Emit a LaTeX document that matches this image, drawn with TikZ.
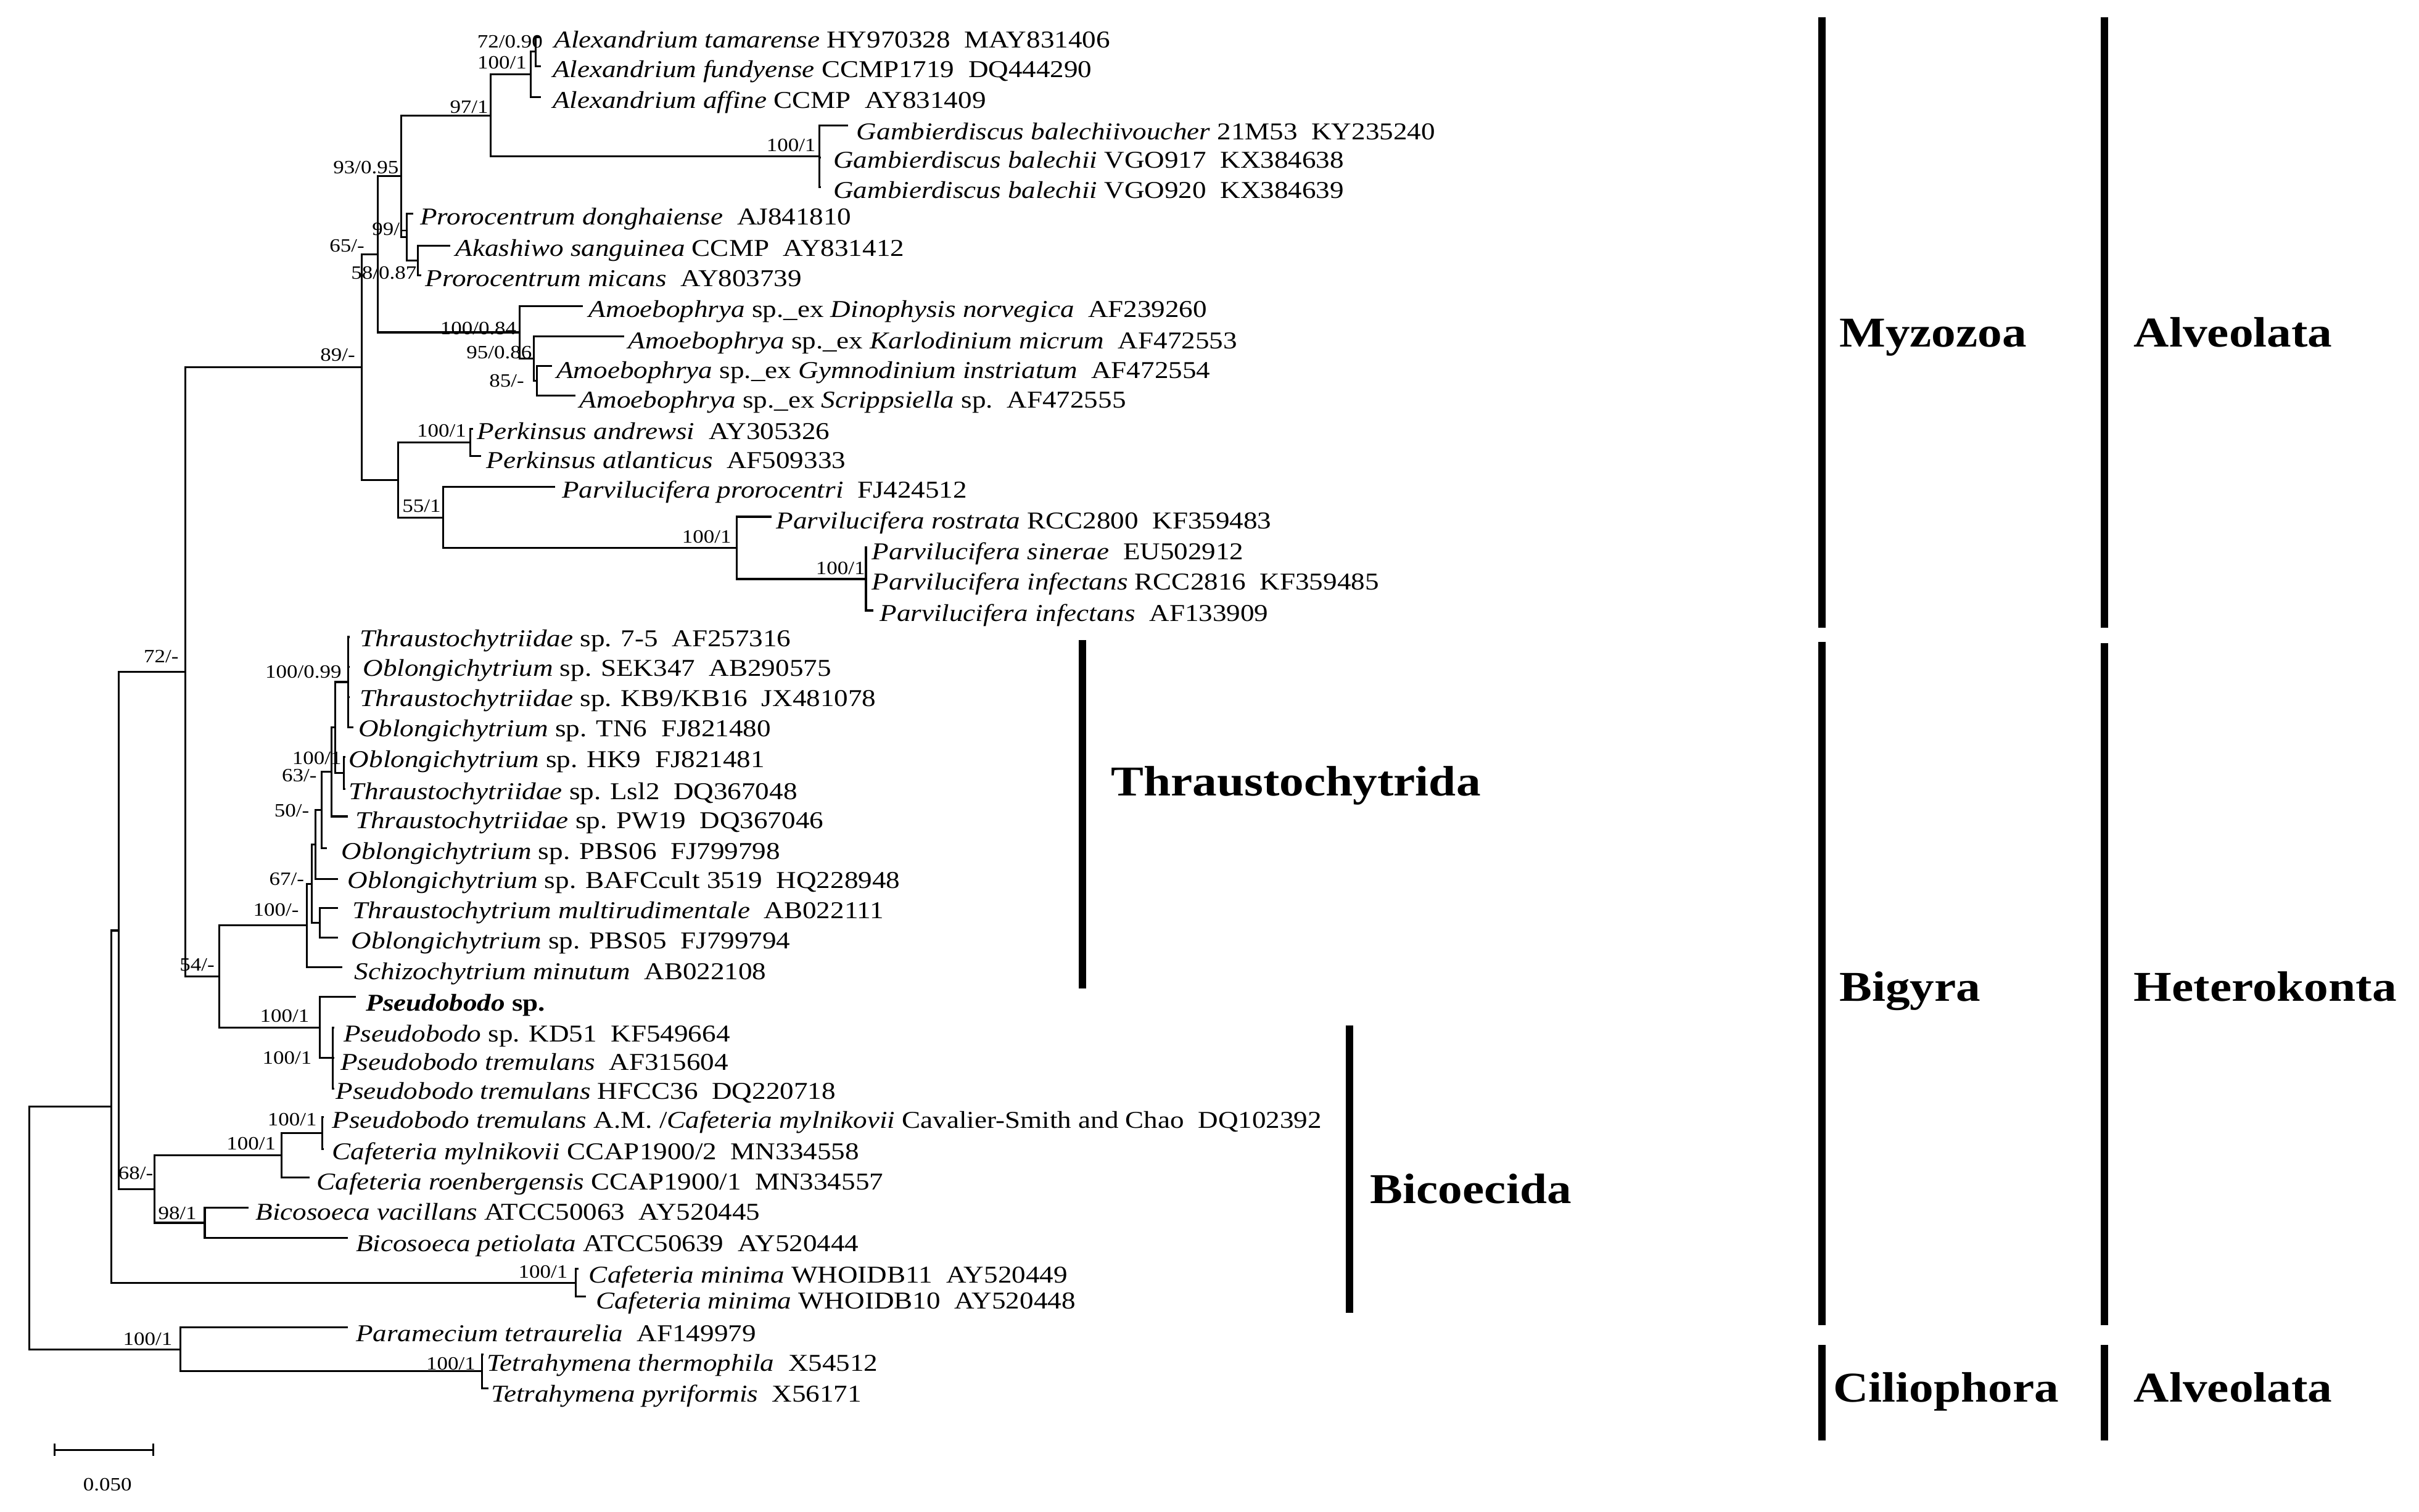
\documentclass[tikz,border=0pt]{standalone}
\usepackage{fontspec}
\setmainfont{Liberation Serif}[FakeStretch=1.15]
\newcommand\leafsize{\fontsize{11.15}{12}\selectfont}
\newcommand\bootsize{\fontsize{8.65}{9}\selectfont}
\newcommand\groupsize{\fontsize{19.6}{21}\selectfont\bfseries}
\begin{document}
\begin{tikzpicture}[x=0.025cm, y=-0.025cm,
  br/.style={line width=0.9pt},
  leaf/.style={anchor=base west, inner sep=0pt, font=\leafsize, yshift=-0.05cm},
  bs/.style={anchor=east, inner sep=0pt, font=\bootsize},
  grp/.style={anchor=base west, inner sep=0pt, font=\groupsize},
  bar/.style={line width=3.4pt}]
\fill[white] (0,0) rectangle (1568,980);
\useasboundingbox (0,0) rectangle (1568,980);

% ---------- internal nodes ----------
\coordinate (nA1) at (347.3,33.5);
\coordinate (nA) at (344,48.2);
\coordinate (nG) at (531,101.4);
\coordinate (n97) at (318,74.8);
\coordinate (nP2) at (271,169);
\coordinate (nP1) at (263.5,153.8);
\coordinate (n93) at (260,114.3);
\coordinate (nAm3) at (348,246.9);
\coordinate (nAm2) at (346,232.5);
\coordinate (nAm1) at (336.7,215.5);
\coordinate (n65) at (245,164.9);
\coordinate (nPk) at (305,286.9);
\coordinate (nPv3) at (561.3,375.4);
\coordinate (nPv2) at (477.6,355.2);
\coordinate (nPv1) at (287.3,335.5);
\coordinate (n55) at (258,311.2);
\coordinate (n89) at (234.5,238);
\coordinate (nT1) at (225.6,442.2);
\coordinate (nT2) at (223,501);
\coordinate (nTa) at (217.3,471.6);
\coordinate (nTb) at (215,500.5);
\coordinate (nTc) at (208.5,525.2);
\coordinate (nTd) at (204.5,547.6);
\coordinate (nTe) at (207.3,598.3);
\coordinate (nTf) at (202,573);
\coordinate (nTg) at (199,600);
\coordinate (n54) at (142,633.1);
\coordinate (nPs2) at (215.6,686);
\coordinate (nPs) at (207.3,666.2);
\coordinate (n72) at (120,435.6);
\coordinate (nC2) at (209,734.7);
\coordinate (nC1) at (182.4,749.1);
\coordinate (nB) at (132.7,792.8);
\coordinate (n68) at (100,771);
\coordinate (nN1) at (77,603.3);
\coordinate (nCm) at (373.2,831.7);
\coordinate (nN2) at (72.3,717.5);
\coordinate (nTet) at (312.5,889);
\coordinate (nCil) at (116.8,874.9);
\coordinate (root) at (18.9,796.2);

% ---------- tips ----------
\coordinate (t1) at (350,24);
\coordinate (t2) at (350.6,43);
\coordinate (t3) at (350.6,63);
\coordinate (t4) at (549.7,81.4);
\coordinate (t5) at (532,102);
\coordinate (t6) at (532,121.4);
\coordinate (t7) at (268,138.6);
\coordinate (t8) at (292,159.3);
\coordinate (t9) at (273,178.6);
\coordinate (t10) at (378,198.6);
\coordinate (t11) at (404.7,218);
\coordinate (t12) at (358,237.4);
\coordinate (t13) at (373,256.4);
\coordinate (t14) at (306.5,278);
\coordinate (t15) at (311.8,295.7);
\coordinate (t16) at (360,315.7);
\coordinate (t17) at (500,335);
\coordinate (t18) at (562.3,355);
\coordinate (t19) at (562.3,374.5);
\coordinate (t20) at (566,395.8);
\coordinate (t21) at (226.6,413);
\coordinate (t22) at (226.6,432.5);
\coordinate (t23) at (226.6,452);
\coordinate (t24) at (229,471.4);
\coordinate (t25) at (224,490.7);
\coordinate (t26) at (224,511.4);
\coordinate (t27) at (225.6,529.3);
\coordinate (t28) at (212,550);
\coordinate (t29) at (219,570);
\coordinate (t30) at (219,588.6);
\coordinate (t31) at (219,608);
\coordinate (t32) at (222,627);
\coordinate (t33) at (230.5,646.4);
\coordinate (t34) at (216.6,666.4);
\coordinate (t35) at (216.6,686);
\coordinate (t36) at (216.6,705.7);
\coordinate (t37) at (210,724.3);
\coordinate (t38) at (210,745);
\coordinate (t39) at (200.7,763.5);
\coordinate (t40) at (161,783);
\coordinate (t41) at (225.6,802.5);
\coordinate (t42) at (375,822.7);
\coordinate (t43) at (379.8,840.7);
\coordinate (t44) at (225.6,860.7);
\coordinate (t45) at (313.5,878);
\coordinate (t46) at (316.8,900);

% ---------- branches ----------
\foreach \p/\c in {nA1/t1,nA1/t2,nA/nA1,nA/t3,nG/t4,nG/t5,nG/t6,n97/nA,n97/nG,
  nP2/t8,nP2/t9,nP1/t7,nP1/nP2,n93/n97,n93/nP1,nAm3/t12,nAm3/t13,nAm2/t11,nAm2/nAm3,
  nAm1/t10,nAm1/nAm2,n65/n93,n65/nAm1,nPk/t14,nPk/t15,nPv3/t18,nPv3/t19,nPv3/t20,
  nPv2/t17,nPv2/nPv3,nPv1/t16,nPv1/nPv2,n55/nPk,n55/nPv1,n89/n65,n89/n55,
  nT1/t21,nT1/t22,nT1/t23,nT1/t24,nT2/t25,nT2/t26,nTa/nT1,nTa/nT2,nTb/nTa,nTb/t27,
  nTc/nTb,nTc/t28,nTd/nTc,nTd/t29,nTe/t30,nTe/t31,nTf/nTd,nTf/nTe,nTg/nTf,nTg/t32,
  nPs2/t34,nPs2/t35,nPs2/t36,nPs/t33,nPs/nPs2,n54/nTg,n54/nPs,n72/n89,n72/n54,
  nC2/t37,nC2/t38,nC1/nC2,nC1/t39,nB/t40,nB/t41,n68/nC1,n68/nB,nN1/n72,nN1/n68,
  nCm/t42,nCm/t43,nN2/nN1,nN2/nCm,nTet/t45,nTet/t46,nCil/t44,nCil/nTet,root/nN2,root/nCil}
  \draw[br] (\p) |- (\c);

% ---------- taxon names ----------
\node[leaf] (l1) at (359,29) {\textit{Alexandrium tamarense} HY970328\ \ MAY831406};
\node[leaf] (l2) at (358,48) {\textit{Alexandrium fundyense} CCMP1719\ \ DQ444290};
\node[leaf] (l3) at (358,68) {\textit{Alexandrium affine} CCMP\ \ AY831409};
\node[leaf] (l4) at (555,88.4) {\textit{Gambierdiscus balechiivoucher} 21M53\ \ KY235240};
\node[leaf] (l5) at (540,107) {\textit{Gambierdiscus balechii} VGO917\ \ KX384638};
\node[leaf] (l6) at (540,126.4) {\textit{Gambierdiscus balechii} VGO920\ \ KX384639};
\node[leaf] (l7) at (272,143.6) {\textit{Prorocentrum donghaiense}\ \ AJ841810};
\node[leaf] (l8) at (295,164.3) {\textit{Akashiwo sanguinea} CCMP\ \ AY831412};
\node[leaf] (l9) at (275.5,183.6) {\textit{Prorocentrum micans}\ \ AY803739};
\node[leaf] (l10) at (381.5,203.6) {\textit{Amoebophrya} sp.\_ex \textit{Dinophysis norvegica}\ \ AF239260};
\node[leaf] (l11) at (407,224) {\textit{Amoebophrya} sp.\_ex \textit{Karlodinium micrum}\ \ AF472553};
\node[leaf] (l12) at (360.5,243.4) {\textit{Amoebophrya} sp.\_ex \textit{Gymnodinium instriatum}\ \ AF472554};
\node[leaf] (l13) at (375.5,262.4) {\textit{Amoebophrya} sp.\_ex \textit{Scrippsiella} sp.\ \ AF472555};
\node[leaf] (l14) at (309,283) {\textit{Perkinsus andrewsi}\ \ AY305326};
\node[leaf] (l15) at (315,301.7) {\textit{Perkinsus atlanticus}\ \ AF509333};
\node[leaf] (l16) at (364,320.7) {\textit{Parvilucifera prorocentri}\ \ FJ424512};
\node[leaf] (l17) at (503,341) {\textit{Parvilucifera rostrata} RCC2800\ \ KF359483};
\node[leaf] (l18) at (565,361) {\textit{Parvilucifera sinerae}\ \ EU502912};
\node[leaf] (l19) at (565,380.5) {\textit{Parvilucifera infectans} RCC2816\ \ KF359485};
\node[leaf] (l20) at (570,400.8) {\textit{Parvilucifera infectans}\ \ AF133909};
\node[leaf] (l21) at (233,417) {\textit{Thraustochytriidae} sp. 7-5\ \ AF257316};
\node[leaf] (l22) at (235,436.5) {\textit{Oblongichytrium} sp. SEK347\ \ AB290575};
\node[leaf] (l23) at (233,456) {\textit{Thraustochytriidae} sp. KB9/KB16\ \ JX481078};
\node[leaf] (l24) at (232,475.4) {\textit{Oblongichytrium} sp. TN6\ \ FJ821480};
\node[leaf] (l25) at (226,495.7) {\textit{Oblongichytrium} sp. HK9\ \ FJ821481};
\node[leaf] (l26) at (226,516.4) {\textit{Thraustochytriidae} sp. Lsl2\ \ DQ367048};
\node[leaf] (l27) at (230,535.3) {\textit{Thraustochytriidae} sp. PW19\ \ DQ367046};
\node[leaf] (l28) at (221,555) {\textit{Oblongichytrium} sp. PBS06\ \ FJ799798};
\node[leaf] (l29) at (225,574) {\textit{Oblongichytrium} sp. BAFCcult 3519\ \ HQ228948};
\node[leaf] (l30) at (228,593.6) {\textit{Thraustochytrium multirudimentale}\ \ AB022111};
\node[leaf] (l31) at (227.5,613) {\textit{Oblongichytrium} sp. PBS05\ \ FJ799794};
\node[leaf] (l32) at (229.5,633) {\textit{Schizochytrium minutum}\ \ AB022108};
\node[leaf] (l33) at (237,653.4) {\textbf{\textit{Pseudobodo} sp.}};
\node[leaf] (l34) at (222.5,673.4) {\textit{Pseudobodo} sp. KD51\ \ KF549664};
\node[leaf] (l35) at (220.5,692) {\textit{Pseudobodo tremulans}\ \ AF315604};
\node[leaf] (l36) at (217.5,710.7) {\textit{Pseudobodo tremulans} HFCC36\ \ DQ220718};
\node[leaf] (l37) at (215,729.3) {\textit{Pseudobodo tremulans} A.M. /\textit{Cafeteria mylnikovii} Cavalier-Smith and Chao\ \ DQ102392};
\node[leaf] (l38) at (215,750) {\textit{Cafeteria mylnikovii} CCAP1900/2\ \ MN334558};
\node[leaf] (l39) at (205,769.5) {\textit{Cafeteria roenbergensis} CCAP1900/1\ \ MN334557};
\node[leaf] (l40) at (165.5,789) {\textit{Bicosoeca vacillans} ATCC50063\ \ AY520445};
\node[leaf] (l41) at (230.5,809.5) {\textit{Bicosoeca petiolata} ATCC50639\ \ AY520444};
\node[leaf] (l42) at (381.5,829.7) {\textit{Cafeteria minima} WHOIDB11\ \ AY520449};
\node[leaf] (l43) at (386,846.7) {\textit{Cafeteria minima} WHOIDB10\ \ AY520448};
\node[leaf] (l44) at (230.5,867.7) {\textit{Paramecium tetraurelia}\ \ AF149979};
\node[leaf] (l45) at (315.5,887) {\textit{Tetrahymena thermophila}\ \ X54512};
\node[leaf] (l46) at (318,907) {\textit{Tetrahymena pyriformis}\ \ X56171};

% ---------- support values ----------
\node[bs] (b1) at (352,27) {72/0.90};
\node[bs] (b2) at (341.6,40.7) {100/1};
\node[bs] (b3) at (316.8,69.3) {97/1};
\node[bs] (b4) at (529,94.3) {100/1};
\node[bs] (b5) at (258.7,108.6) {93/0.95};
\node[bs] (b6) at (264,148.6) {99/-};
\node[bs] (b7) at (236.5,159.3) {65/-};
\node[bs] (b8) at (270.3,177) {58/0.87};
\node[bs] (b9) at (335,212.9) {100/0.84};
\node[bs] (b10) at (345,228.6) {95/0.86};
\node[bs] (b11) at (340,247) {85/-};
\node[bs] (b12) at (230.5,230) {89/-};
\node[bs] (b13) at (302.5,279.3) {100/1};
\node[bs] (b14) at (286,327.9) {55/1};
\node[bs] (b15) at (474.3,347.9) {100/1};
\node[bs] (b16) at (561,368.6) {100/1};
\node[bs] (b17) at (116,425.7) {72/-};
\node[bs] (b18) at (221.6,435.7) {100/0.99};
\node[bs] (b19) at (221.6,491.4) {100/1};
\node[bs] (b20) at (205.6,502.9) {63/-};
\node[bs] (b21) at (200.7,525.7) {50/-};
\node[bs] (b22) at (197.4,570) {67/-};
\node[bs] (b23) at (194,590) {100/-};
\node[bs] (b24) at (139.3,625.7) {54/-};
\node[bs] (b25) at (200.7,658.6) {100/1};
\node[bs] (b26) at (202.3,685.7) {100/1};
\node[bs] (b27) at (205.6,725.7) {100/1};
\node[bs] (b28) at (179,741.5) {100/1};
\node[bs] (b29) at (99.5,760.7) {68/-};
\node[bs] (b30) at (127.7,786.5) {98/1};
\node[bs] (b31) at (368.2,824.7) {100/1};
\node[bs] (b32) at (112,868) {100/1};
\node[bs] (b33) at (308.5,884) {100/1};

% ---------- scale bar ----------
\coordinate (s1) at (35.5,940);
\coordinate (s2) at (99.5,940);
\draw[br] (s1) -- (s2);
\draw[br] ([yshift=0.1cm]s1) -- ([yshift=-0.1cm]s1);
\draw[br] ([yshift=0.1cm]s2) -- ([yshift=-0.1cm]s2);
\node[font=\bootsize, inner sep=0pt] (scl) at (69.7,962.7) {0.050};

% ---------- clade bars and names ----------
\draw[bar] (701.6,415) -- (701.6,640.7);
\node[grp] (g1) at (720,516) {Thraustochytrida};
\draw[bar] (874.7,665) -- (874.7,851);
\node[grp] (g2) at (888,780) {Bicoecida};
\draw[bar] (1181,11) -- (1181,407);
\node[grp] (g3) at (1192,225) {Myzozoa};
\draw[bar] (1181,416) -- (1181,859);
\node[grp] (g4) at (1192,649) {Bigyra};
\draw[bar] (1181,872) -- (1181,934);
\node[grp] (g5) at (1188,909) {Ciliophora};
\draw[bar] (1364,11) -- (1364,407);
\node[grp] (g6) at (1383,225) {Alveolata};
\draw[bar] (1364,417) -- (1364,859);
\node[grp] (g7) at (1383,649) {Heterokonta};
\draw[bar] (1364,872) -- (1364,934);
\node[grp] (g8) at (1383,909) {Alveolata};
\end{tikzpicture}
\end{document}
